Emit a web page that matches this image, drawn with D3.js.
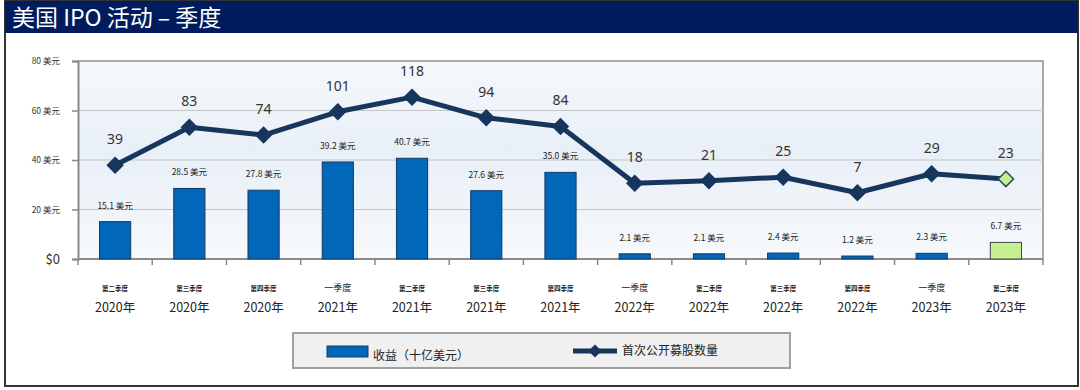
<!DOCTYPE html>
<html><head><meta charset="utf-8">
<script src="https://cdn.jsdelivr.net/npm/d3@7"></script>
<style>
html,body{margin:0;padding:0;background:#fff;}
svg{display:block;font-family:"Noto Sans CJK SC","Noto Sans",sans-serif;}
</style></head>
<body><svg id="c" width="1080" height="390"></svg>
<script>
const quarters = ["第二季度","第三季度","第四季度","一季度","第二季度","第三季度","第四季度","一季度","第二季度","第三季度","第四季度","一季度","第二季度"];
const years = ["2020年","2020年","2020年","2021年","2021年","2021年","2021年","2022年","2022年","2022年","2022年","2023年","2023年"];
const proceeds = [15.1,28.5,27.8,39.2,40.7,27.6,35.0,2.1,2.1,2.4,1.2,2.3,6.7];
const ipoCount = [39,83,74,101,118,94,84,18,21,25,7,29,23];
const yTicks = [0,20,40,60,80];
const yTickLabels = ["$0","20 美元","40 美元","60 美元","80 美元"];
const title = "美国 IPO 活动 – 季度";
const legendBar = "收益（十亿美元）";
const legendLine = "首次公开募股数量";

const svg = d3.select("#c");
const L = 78, R = 1043, T = 61, B = 259;
const idx = d3.range(quarters.length);

// frame
svg.append("rect").attr("x",5).attr("y",1).attr("width",1073).attr("height",385)
  .attr("fill","#fff").attr("stroke","#333").attr("stroke-width",2);
svg.append("rect").attr("x",5).attr("y",1).attr("width",1073).attr("height",32).attr("fill","#001c5e");
svg.append("text").attr("x",12).attr("y",26).attr("fill","#fff").attr("font-size",23).text(title);

// plot bg
const defs = svg.append("defs");
const g = defs.append("linearGradient").attr("id","bg").attr("x1",0).attr("y1",0).attr("x2",0).attr("y2",1);
g.append("stop").attr("offset","0%").attr("stop-color","#f6f9fc");
g.append("stop").attr("offset","45%").attr("stop-color","#e8eff7");
g.append("stop").attr("offset","100%").attr("stop-color","#f7f9fb");
svg.append("rect").attr("x",L).attr("y",T).attr("width",R-L).attr("height",B-T).attr("fill","url(#bg)");
svg.append("path").attr("d",`M${L},${T}H${R}V${B}`).attr("fill","none").attr("stroke","#a8a8a8").attr("stroke-width",2);

const x = d3.scaleBand().domain(idx).range([L,R]).paddingInner(0.58).paddingOuter(0.29);
const y = d3.scaleLinear().domain([0,80]).range([B,T]);
const y2 = d3.scaleLinear().domain([-70,160]).range([B,T]);

// grid
svg.append("g").selectAll("line").data(yTicks.filter(v=>v>0&&v<80)).join("line")
  .attr("x1",L).attr("x2",R).attr("y1",d=>y(d)).attr("y2",d=>y(d)).attr("stroke","#c4c4c4").attr("stroke-width",1);

// y axis
const ya = svg.append("g").attr("transform",`translate(${L},0)`)
  .call(d3.axisLeft(y).tickValues(yTicks).tickSize(6).tickFormat((d,i)=>yTickLabels[i]));
ya.select(".domain").attr("stroke","#8a8a8a").attr("stroke-width",2);
ya.selectAll(".tick line").attr("stroke","#8a8a8a").attr("stroke-width",1.5);
ya.selectAll(".tick text").attr("x",-18).attr("fill","#333")
  .attr("font-size",d=>d===0?13:8.5).attr("font-family",'"Noto Sans CJK SC",sans-serif');

// x axis
const boundaries = d3.range(quarters.length+1).map(i=>L+i*(R-L)/quarters.length);
svg.append("line").attr("x1",L).attr("x2",R).attr("y1",B).attr("y2",B).attr("stroke","#8a8a8a").attr("stroke-width",2);
svg.append("g").selectAll("line").data(boundaries).join("line")
  .attr("x1",d=>d).attr("x2",d=>d).attr("y1",B).attr("y2",B+6).attr("stroke","#8a8a8a").attr("stroke-width",1.5);

const cx = i => x(i)+x.bandwidth()/2;
svg.append("g").selectAll("text").data(idx).join("text")
  .attr("x",cx).attr("y",291).attr("text-anchor","middle").attr("fill","#222")
  .attr("font-size",i=>quarters[i].length>3?6.5:9).attr("font-weight",i=>quarters[i].length>3?"bold":"normal")
  .text(i=>quarters[i]);
svg.append("g").selectAll("text").data(idx).join("text")
  .attr("x",cx).attr("y",312).attr("text-anchor","middle").attr("fill","#222").attr("font-size",12.5)
  .text(i=>years[i]);

// bars
const last = quarters.length-1;
svg.append("g").selectAll("rect").data(idx).join("rect")
  .attr("x",i=>x(i)).attr("width",x.bandwidth())
  .attr("y",i=>y(proceeds[i])).attr("height",i=>B-y(proceeds[i]))
  .attr("fill",i=>i===last?"#c6f090":"#0067b9")
  .attr("stroke",i=>i===last?"#3a4a55":"#123a6a").attr("stroke-width",1);
svg.append("g").selectAll("text").data(idx).join("text")
  .attr("x",cx).attr("y",i=>y(proceeds[i])-13).attr("text-anchor","middle").attr("fill","#222")
  .attr("font-size",8.5).text(i=>proceeds[i].toFixed(1)+" 美元");

// line
svg.append("path").datum(idx).attr("fill","none").attr("stroke","#17365d").attr("stroke-width",5)
  .attr("stroke-linejoin","round")
  .attr("d",d3.line().x(cx).y(i=>y2(ipoCount[i])));
const diamond = d3.symbol().type(d3.symbolDiamond2).size(150);
svg.append("g").selectAll("path").data(idx).join("path")
  .attr("transform",i=>`translate(${cx(i)},${y2(ipoCount[i])})`)
  .attr("d",diamond)
  .attr("fill",i=>i===last?"#c6f090":"#17365d")
  .attr("stroke",i=>i===last?"#2e4a5e":"#17365d").attr("stroke-width",1.5);
svg.append("g").selectAll("text").data(idx).join("text")
  .attr("x",cx).attr("y",i=>y2(ipoCount[i])-21).attr("text-anchor","middle").attr("fill","#333")
  .attr("font-size",14).attr("font-family",'"Noto Sans","Noto Sans CJK SC",sans-serif')
  .text(i=>ipoCount[i]);

// legend
const lg = svg.append("g");
lg.append("rect").attr("x",293).attr("y",333).attr("width",497).attr("height",35)
  .attr("fill","#f0f0f0").attr("stroke","#a0a0a0").attr("stroke-width",2);
lg.append("rect").attr("x",327).attr("y",346).attr("width",41).attr("height",11)
  .attr("fill","#0067b9").attr("stroke","#123a6a").attr("stroke-width",1);
lg.append("text").attr("x",373).attr("y",360).attr("font-size",12).attr("fill","#222").text(legendBar);
lg.append("line").attr("x1",573).attr("x2",617).attr("y1",351).attr("y2",351).attr("stroke","#17365d").attr("stroke-width",5);
lg.append("path").attr("transform","translate(595,351)").attr("d",d3.symbol().type(d3.symbolDiamond2).size(110)).attr("fill","#17365d");
lg.append("text").attr("x",622).attr("y",355).attr("font-size",12).attr("fill","#222").text(legendLine);
</script></body></html>
